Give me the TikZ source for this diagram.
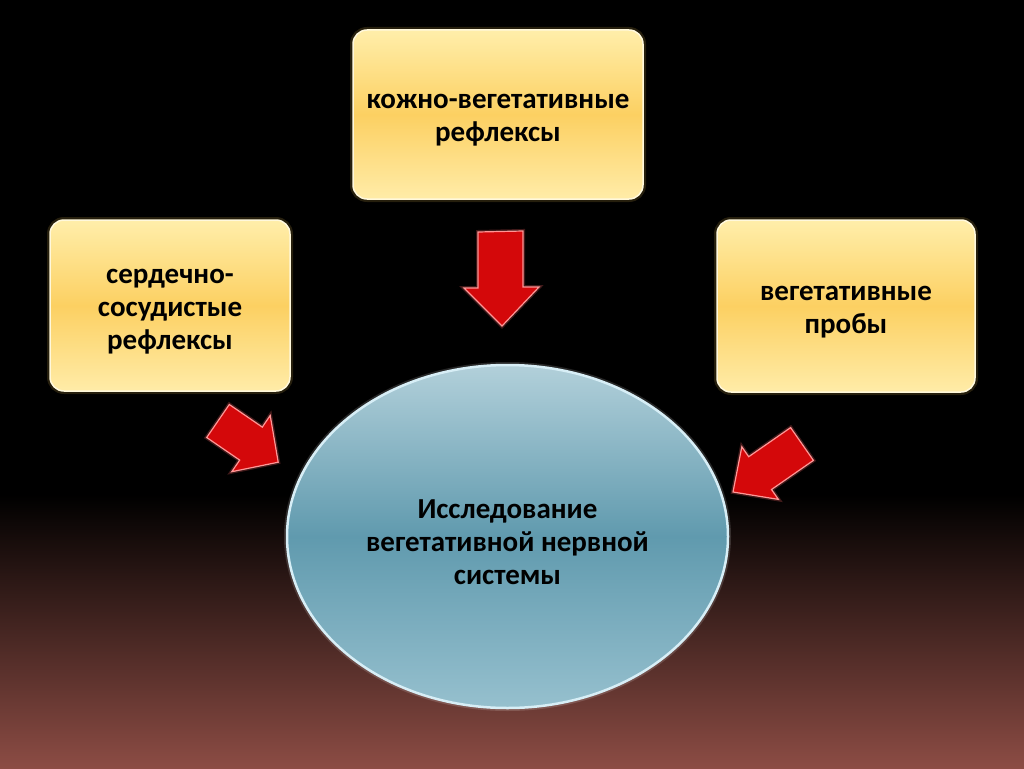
\documentclass[tikz,border=0pt]{standalone}
\usepackage{fontspec}
\setmainfont{Carlito}
\usetikzlibrary{shapes.geometric}
\definecolor{bgbot}{RGB}{140,76,68}
\definecolor{ytop}{RGB}{255,238,170}
\definecolor{ymid}{RGB}{252,208,98}
\definecolor{ybot}{RGB}{255,236,168}
\definecolor{etop}{RGB}{178,208,218}
\definecolor{emid}{RGB}{96,154,174}
\definecolor{ebot}{RGB}{150,192,206}
\definecolor{eline}{RGB}{215,238,246}
\definecolor{arfill}{RGB}{212,8,10}
\definecolor{aredge}{RGB}{255,150,150}
\definecolor{glow}{RGB}{110,90,40}
\tikzset{
  txt/.style={align=center, font=\fontsize{29}{33}\selectfont\bfseries, text=black, inner sep=0pt, yshift=-6pt},
  ybox/.style={rounded corners=14pt, draw={rgb,255:red,255;green,248;blue,220}, line width=1.5pt,
    top color=ytop, bottom color=ybot, middle color=ymid,
    preaction={draw=glow, line width=6pt, opacity=0.35}, inner sep=0pt},
  bigell/.style={ellipse, draw=eline, line width=2.5pt, inner sep=0pt,
    top color=etop, bottom color=ebot, middle color=emid,
    preaction={draw=white, line width=6pt, opacity=0.15},
    minimum width=441pt, minimum height=343pt},
  redarrow/.style={fill=arfill, draw=aredge, line width=1.2pt, line join=miter,
    preaction={draw=red!60!white, line width=4pt, opacity=0.25}}
}
\begin{document}
\begin{tikzpicture}[x=1pt,y=-1pt]
\useasboundingbox (0,0) rectangle (1024,768);
\fill[black] (0,0) rectangle (1024,768);
\shade[top color=black, bottom color=bgbot] (0,495) rectangle (1024,768);

% boxes
\node[ybox, minimum width=290pt, minimum height=169pt,
  label={[txt, name=toptext]center:кожно-вегетативные\\рефлексы}] (top) at (498,114.5) {};
\node[ybox, minimum width=240pt, minimum height=171pt,
  label={[txt, name=lefttext]center:сердечно-\\сосудистые\\рефлексы}] (left) at (170,305.5) {};
\node[ybox, minimum width=258pt, minimum height=172pt,
  label={[txt, name=righttext]center:вегетативные\\пробы}] (right) at (846,306) {};

% central ellipse
\node[bigell,
  label={[txt, name=centertext]center:Исследование\\вегетативной нервной\\системы}] (center) at (507.5,536.5) {};

% arrows
\draw[redarrow] (478,232) -- (523,231) -- (523,287) -- (539,287) -- (502,326)
  -- (464,288) -- (478,288) -- cycle;
\draw[redarrow] (229.3,404.5) -- (262.3,427.1) -- (270.2,415.5) -- (278.2,462.2)
  -- (231.8,471.7) -- (239.7,460.1) -- (206.7,437.5) -- cycle;
\draw[redarrow] (790.6,427.6) -- (748.7,456.7) -- (741.8,446.8) -- (733,492)
  -- (778.4,499.4) -- (771.5,489.5) -- (813.4,460.4) -- cycle;
\end{tikzpicture}
\end{document}
